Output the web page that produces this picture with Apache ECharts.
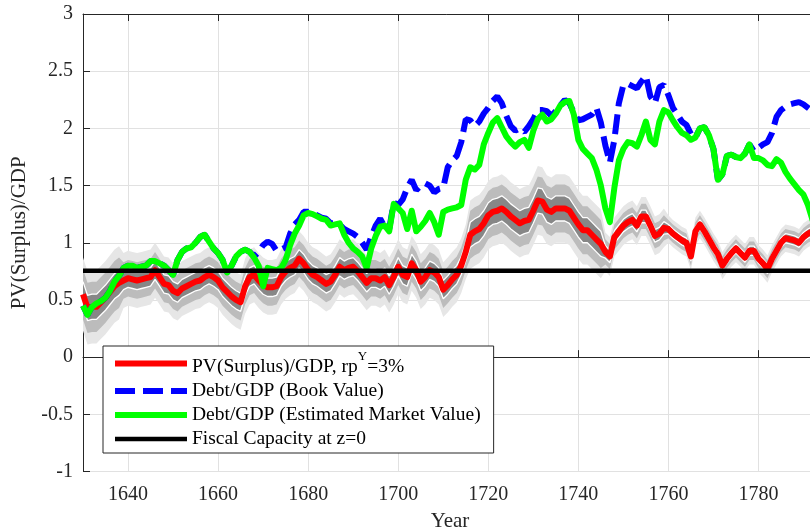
<!DOCTYPE html>
<html><head><meta charset="utf-8">
<script src="https://cdn.jsdelivr.net/npm/echarts@6/dist/echarts.min.js"></script>
<style>html,body{margin:0;padding:0;background:#fff}#c{width:810px;height:531px}</style>
</head><body><div id="c"></div>
<script>
const years = [1630,1631,1632,1633,1634,1635,1636,1637,1638,1639,
1640,1641,1642,1643,1644,1645,1646,1647,1648,1649,
1650,1651,1652,1653,1654,1655,1656,1657,1658,1659,
1660,1661,1662,1663,1664,1665,1666,1667,1668,1669,
1670,1671,1672,1673,1674,1675,1676,1677,1678,1679,
1680,1681,1682,1683,1684,1685,1686,1687,1688,1689,
1690,1691,1692,1693,1694,1695,1696,1697,1698,1699,
1700,1701,1702,1703,1704,1705,1706,1707,1708,1709,
1710,1711,1712,1713,1714,1715,1716,1717,1718,1719,
1720,1721,1722,1723,1724,1725,1726,1727,1728,1729,
1730,1731,1732,1733,1734,1735,1736,1737,1738,1739,
1740,1741,1742,1743,1744,1745,1746,1747,1748,1749,
1750,1751,1752,1753,1754,1755,1756,1757,1758,1759,
1760,1761,1762,1763,1764,1765,1766,1767,1768,1769,
1770,1771,1772,1773,1774,1775,1776,1777,1778,1779,
1780,1781,1782,1783,1784,1785,1786,1787,1788,1789,
1790,1791,1792,1793];

// PV(Surplus)/GDP
const pvSurplus = [0.55,0.43,0.44,0.44,0.48,0.52,0.57,0.62,0.65,0.67,
0.69,0.68,0.67,0.68,0.69,0.70,0.76,0.70,0.64,0.63,
0.58,0.56,0.60,0.62,0.64,0.66,0.67,0.70,0.72,0.70,
0.67,0.61,0.57,0.53,0.50,0.48,0.62,0.70,0.72,0.67,
0.63,0.61,0.61,0.62,0.70,0.75,0.78,0.80,0.86,0.82,
0.76,0.72,0.70,0.67,0.64,0.66,0.72,0.79,0.76,0.78,
0.79,0.75,0.70,0.65,0.69,0.69,0.67,0.70,0.63,0.70,
0.79,0.72,0.70,0.82,0.76,0.66,0.70,0.76,0.74,0.70,
0.59,0.63,0.68,0.72,0.80,0.92,1.07,1.10,1.12,1.17,
1.24,1.27,1.28,1.30,1.27,1.23,1.20,1.17,1.19,1.20,
1.28,1.37,1.36,1.29,1.27,1.30,1.30,1.30,1.28,1.22,
1.16,1.11,1.11,1.07,1.03,0.99,0.92,0.88,1.05,1.10,
1.15,1.18,1.20,1.15,1.23,1.23,1.15,1.06,1.08,1.13,
1.12,1.08,1.05,1.02,1.00,0.88,1.10,1.16,1.10,1.03,
0.96,0.90,0.80,0.86,0.91,0.95,0.91,0.87,0.93,0.93,
0.86,0.82,0.77,0.86,0.93,1.00,1.04,1.03,1.02,1.00,
1.05,1.08,1.10,1.10];

// Debt/GDP (Book Value)
const debtBook = [0.45,0.37,0.44,0.47,0.49,0.52,0.58,0.66,0.71,0.78,
0.80,0.80,0.78,0.79,0.80,0.84,0.84,0.82,0.80,0.76,
0.72,0.85,0.92,0.95,0.96,1.00,1.05,1.07,1.01,0.95,
0.91,0.85,0.74,0.80,0.88,0.92,0.94,0.92,0.88,0.92,
0.98,1.01,0.99,0.93,0.94,0.96,1.08,1.16,1.20,1.27,
1.27,1.26,1.24,1.22,1.21,1.17,1.17,1.16,1.12,1.10,
1.08,1.05,1.00,0.94,1.05,1.15,1.21,1.14,1.12,1.35,
1.33,1.38,1.48,1.55,1.46,1.50,1.52,1.50,1.44,1.47,
1.48,1.66,1.72,1.76,1.88,2.08,2.07,2.02,2.06,2.13,
2.18,2.24,2.28,2.22,2.11,2.02,1.98,2.00,1.97,2.02,
2.08,2.16,2.16,2.15,2.11,2.15,2.20,2.25,2.22,2.14,
2.07,2.08,2.10,2.12,2.18,2.05,1.85,1.70,1.90,2.22,
2.38,2.39,2.37,2.35,2.41,2.46,2.28,2.22,2.36,2.38,
2.29,2.18,2.12,2.06,2.03,1.95,1.92,2.00,2.01,1.94,
1.82,1.55,1.60,1.76,1.77,1.75,1.74,1.78,1.86,1.80,
1.83,1.86,1.88,1.96,2.10,2.16,2.19,2.21,2.22,2.23,
2.21,2.18,2.15,2.15];

// Debt/GDP (Estimated Market Value)
const debtMarket = [0.45,0.37,0.44,0.47,0.49,0.52,0.58,0.66,0.71,0.78,
0.80,0.80,0.78,0.79,0.80,0.84,0.84,0.82,0.80,0.76,
0.72,0.85,0.92,0.95,0.96,1.00,1.05,1.07,1.01,0.95,
0.91,0.85,0.74,0.80,0.88,0.92,0.94,0.92,0.87,0.80,
0.62,0.78,0.77,0.76,0.78,0.85,0.98,1.08,1.15,1.24,
1.26,1.25,1.23,1.21,1.20,1.15,1.16,1.17,1.07,1.00,
0.95,0.92,0.88,0.78,0.95,1.06,1.14,1.15,1.10,1.34,
1.30,1.26,1.12,1.28,1.10,1.14,1.19,1.26,1.18,1.07,
1.27,1.29,1.30,1.31,1.33,1.55,1.66,1.64,1.68,1.86,
1.96,2.05,2.09,2.01,1.93,1.88,1.84,1.88,1.90,1.83,
1.98,2.08,2.12,2.06,2.08,2.13,2.20,2.23,2.24,2.12,
1.90,1.82,1.78,1.74,1.64,1.50,1.30,1.18,1.48,1.72,
1.82,1.88,1.87,1.84,1.94,2.06,1.90,1.86,2.06,2.16,
2.14,2.07,2.01,1.96,1.94,1.90,1.92,2.00,2.01,1.94,
1.82,1.55,1.60,1.76,1.77,1.75,1.74,1.78,1.86,1.74,
1.74,1.72,1.68,1.67,1.73,1.70,1.62,1.56,1.51,1.46,
1.42,1.33,1.20,1.10];

const fiscalCapacity = 0.755;

// uncertainty bands around PV(Surplus)/GDP: half-widths by period
const bandFromYear = [1630, 1639, 1716, 1746, 1760];
const bandOuter = [0.32, 0.24, 0.30, 0.17, 0.12];
const bandMid   = [0.22, 0.16, 0.21, 0.11, 0.08];
const bandInner = [0.11, 0.08, 0.11, 0.055, 0.04];

const xMin = 1630, xMax = 1793;
const yTicks = {min: -1, max: 3, interval: 0.5};

const names = ['PV(Surplus)/GDP, rp^Y=3%', 'Debt/GDP (Book Value)', 'Debt/GDP (Estimated Market Value)', 'Fiscal Capacity at z=0'];

function widthAt(arr, y) {
  let k = 0;
  for (let i = 0; i < bandFromYear.length; i++) if (y >= bandFromYear[i]) k = i;
  return arr[k];
}
function bandPolygon(arr, color) {
  const upper = years.map((y, i) => [y, pvSurplus[i] + widthAt(arr, y)]);
  const lower = years.map((y, i) => [y, pvSurplus[i] - widthAt(arr, y)]);
  return {
    type: 'custom', silent: true, data: [[xMin, pvSurplus[0]]], encode: {x: 0, y: 1},
    renderItem: function (params, api) {
      const pts = upper.map(p => api.coord(p)).concat(lower.slice().reverse().map(p => api.coord(p)));
      const cs = params.coordSys;
      return {
        type: 'polygon', shape: {points: pts}, style: {fill: color, stroke: null},
        clipPath: {type: 'rect', shape: {x: cs.x, y: cs.y, width: cs.width, height: cs.height}}
      };
    }
  };
}
function edgeLine(arr, sign) {
  return {type: 'line', symbol: 'none', silent: true,
    data: years.map((y, i) => [y, pvSurplus[i] + sign * widthAt(arr, y)]),
    lineStyle: {color: '#ffffff', width: 1.3}};
}
const pair = a => years.map((y, i) => [y, a[i]]);

const font = 'Liberation Serif';
const chart = echarts.init(document.getElementById('c'), null, {renderer: 'canvas'});
const axisCommon = {
  min: xMin, max: xMax, splitNumber: 8,
  axisLine: {lineStyle: {color: '#262626', width: 1}},
  axisTick: {inside: true, length: 7, lineStyle: {color: '#262626'}},
};
chart.setOption({
  animation: false,
  backgroundColor: '#ffffff',
  grid: {left: 83, right: -7, top: 14, bottom: 59.5, containLabel: false, outerBoundsMode: 'none'},
  xAxis: [
    Object.assign({type: 'value', position: 'bottom',
      name: 'Year', nameLocation: 'middle', nameGap: 39,
      nameTextStyle: {fontFamily: font, fontSize: 21, color: '#262626'},
      axisLabel: {fontFamily: font, fontSize: 20, color: '#262626', margin: 13, showMinLabel: false, showMaxLabel: false,
        formatter: v => String(v)},
      splitLine: {show: true, lineStyle: {color: '#e1e1e1', width: 1}}
    }, axisCommon),
    Object.assign({type: 'value', position: 'top', axisLabel: {show: false}, splitLine: {show: false}}, axisCommon)
  ],
  yAxis: {
    type: 'value', min: yTicks.min, max: yTicks.max, interval: yTicks.interval,
    name: 'PV(Surplus)/GDP', nameLocation: 'middle', nameGap: 47,
    nameTextStyle: {fontFamily: font, fontSize: 21, color: '#262626', padding: [0, 0, 0, 20]},
    axisLine: {show: true, lineStyle: {color: '#262626', width: 1}},
    axisTick: {show: true, inside: true, length: 7, lineStyle: {color: '#262626'}},
    axisLabel: {fontFamily: font, fontSize: 20, color: '#262626', margin: 10},
    splitLine: {show: true, lineStyle: {color: '#e1e1e1', width: 1}}
  },
  legend: {
    data: names,
    orient: 'vertical', left: 103, top: 346,
    backgroundColor: '#ffffff', borderColor: '#262626', borderWidth: 1,
    padding: [4, 13, 4, 9], itemGap: 4, itemWidth: 72, itemHeight: 14,
    itemStyle: {opacity: 0},
    lineStyle: {width: 'inherit'},
    selectedMode: false,
    formatter: function (name) {
      if (name === names[0]) return '{n|PV(Surplus)/GDP, rp}{sup|Y}{n|=3%}';
      return name;
    },
    textStyle: {fontFamily: font, fontSize: 19.5, color: '#000',
      rich: {
        n: {fontFamily: font, fontSize: 19.5, color: '#000', verticalAlign: 'bottom'},
        sup: {fontFamily: font, fontSize: 13, color: '#000', verticalAlign: 'top', lineHeight: 27}
      }}
  },
  series: [].concat(
    [bandPolygon(bandOuter, '#e6e6e6'), bandPolygon(bandMid, '#bcbcbc'), bandPolygon(bandInner, '#878787')],
    [edgeLine(bandInner, 1), edgeLine(bandInner, -1)],
    [
      {name: names[0], type: 'line', symbol: 'none', data: pair(pvSurplus),
        lineStyle: {color: '#ff0000', width: 6, join: 'round'}, itemStyle: {color: '#ff0000'}},
      {name: names[1], type: 'line', symbol: 'none', data: pair(debtBook),
        lineStyle: {color: '#0000ff', width: 6, type: [20, 8]}, itemStyle: {color: '#0000ff'}},
      {name: names[2], type: 'line', symbol: 'none', data: pair(debtMarket),
        lineStyle: {color: '#00ff00', width: 6, join: 'round'}, itemStyle: {color: '#00ff00'}},
      {name: names[3], type: 'line', symbol: 'none', data: [[xMin, fiscalCapacity], [xMax, fiscalCapacity]],
        lineStyle: {color: '#000000', width: 4.5}, itemStyle: {color: '#000000'}}
    ]
  )
});
</script>
</body></html>
